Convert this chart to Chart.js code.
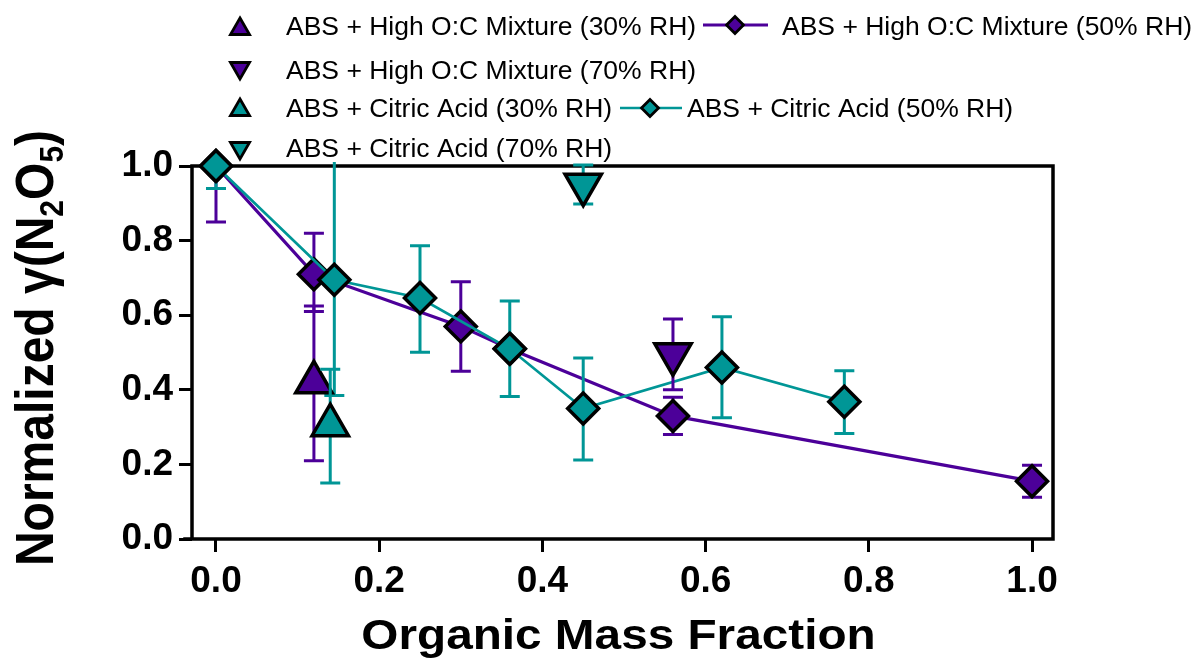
<!DOCTYPE html>
<html><head><meta charset="utf-8">
<script src="https://cdn.jsdelivr.net/npm/chart.js@4.4.0/dist/chart.umd.min.js"></script>
<style>html,body{margin:0;padding:0;background:#fff}</style>
</head><body>
<canvas id="c" width="1199" height="660"></canvas>
<script>
// ---- data ----
const xTicks = [0, 0.2, 0.4, 0.6, 0.8, 1.0];
const yTicks = [0, 0.2, 0.4, 0.6, 0.8, 1.0];

const labelHighOC30 = 'ABS + High O:C Mixture (30% RH)';
const xHighOC30 = [0.12];
const yHighOC30 = [0.42];
const upHighOC30 = [0.205];
const dnHighOC30 = [0.21];

const labelHighOC50 = 'ABS + High O:C Mixture (50% RH)';
const xHighOC50 = [0, 0.12, 0.30, 0.36, 0.56, 1.0];
const yHighOC50 = [1.0, 0.71, 0.57, 0.51, 0.33, 0.155];
const upHighOC50 = [0, 0.11, 0.12, 0, 0.05, 0.043];
const dnHighOC50 = [0.15, 0.10, 0.12, 0, 0.05, 0.043];

const labelHighOC70 = 'ABS + High O:C Mixture (70% RH)';
const xHighOC70 = [0.56];
const yHighOC70 = [0.495];
const upHighOC70 = [0.095];
const dnHighOC70 = [0.095];

const labelCitric30 = 'ABS + Citric Acid (30% RH)';
const xCitric30 = [0.14];
const yCitric30 = [0.305];
const upCitric30 = [0.15];
const dnCitric30 = [0.155];

const labelCitric50 = 'ABS + Citric Acid (50% RH)';
const xCitric50 = [0, 0.145, 0.25, 0.36, 0.45, 0.62, 0.77];
const yCitric50 = [1.0, 0.695, 0.646, 0.51, 0.35, 0.46, 0.368];
const upCitric50 = [0, 0.32, 0.14, 0.128, 0.135, 0.136, 0.083];
const dnCitric50 = [0.06, 0.31, 0.145, 0.128, 0.138, 0.135, 0.085];

const labelCitric70 = 'ABS + Citric Acid (70% RH)';
const xCitric70 = [0.45];
const yCitric70 = [0.95];
const upCitric70 = [0.053];
const dnCitric70 = [0.052];

// ---- style ----
const PURPLE = '#4c0099';
const TEAL = '#009696';
const FONT = "'Liberation Sans', Arial, Helvetica, sans-serif";
const XMIN = -0.0294, XMAX = 1.0257;

function pts(xs, ys) { return xs.map((x, i) => ({x: x, y: ys[i]})); }

function markerSet(label, xs, ys, up, dn, color, style, rot, radius, order, line) {
  return {
    label: label, data: pts(xs, ys), errUp: up, errDn: dn,
    showLine: !!line, borderColor: color, backgroundColor: color,
    borderWidth: line ? (color === PURPLE ? 3.2 : 2.7) : 0,
    pointStyle: style, rotation: rot, pointRadius: radius,
    pointBackgroundColor: color, pointBorderColor: '#000', pointBorderWidth: 3.5,
    order: order, clip: false, tension: 0
  };
}

const errorBars = {
  id: 'errorBars',
  beforeDatasetDraw(chart, args) {
    const ds = chart.data.datasets[args.index];
    if (!ds.errUp) return;
    const ctx = chart.ctx, xs = chart.scales.x, ys = chart.scales.y;
    const topLimit = ys.getPixelForValue(1.0) - 4;
    ctx.save();
    ctx.strokeStyle = ds.borderColor;
    ctx.lineWidth = 3;
    ds.data.forEach((p, i) => {
      const u = ds.errUp[i] || 0, d = ds.errDn[i] || 0;
      const px = xs.getPixelForValue(p.x);
      let pu = ys.getPixelForValue(p.y + u);
      const pd = ys.getPixelForValue(p.y - d);
      const py = ys.getPixelForValue(p.y);
      let capUp = true;
      if (pu < topLimit) { pu = topLimit; capUp = false; }
      ctx.beginPath();
      if (u > 0) {
        ctx.moveTo(px, py); ctx.lineTo(px, pu);
        if (capUp) { ctx.moveTo(px - 10, pu); ctx.lineTo(px + 10, pu); }
      }
      if (d > 0) {
        ctx.moveTo(px, py); ctx.lineTo(px, pd);
        ctx.moveTo(px - 10, pd); ctx.lineTo(px + 10, pd);
      }
      ctx.stroke();
    });
    ctx.restore();
  }
};

const frame = {
  id: 'frame',
  beforeDatasetsDraw(chart) {
    const ctx = chart.ctx, a = chart.chartArea;
    const bx = chart.scales.x.getPixelForValue(-0.038);
    ctx.save();
    ctx.strokeStyle = '#000';
    ctx.lineWidth = 3.5;
    ctx.lineCap = 'square';
    ctx.beginPath();
    ctx.moveTo(a.left, a.bottom); ctx.lineTo(a.left, a.top);
    ctx.lineTo(a.right, a.top); ctx.lineTo(a.right, a.bottom);
    ctx.moveTo(bx, a.bottom); ctx.lineTo(a.right, a.bottom);
    ctx.stroke();
    ctx.restore();
  }
};

function drawMarker(ctx, style, rot, r, x, y, color) {
  ctx.save();
  ctx.fillStyle = color; ctx.strokeStyle = '#000'; ctx.lineWidth = 2.8;
  Chart.helpers.drawPoint(ctx, {pointStyle: style, rotation: rot, radius: r, borderWidth: 2.8}, x, y);
  ctx.restore();
}

const texts = {
  id: 'texts',
  afterDraw(chart) {
    const ctx = chart.ctx;
    ctx.save();
    ctx.fillStyle = '#000';
    // legend
    ctx.font = '26.5px ' + FONT;
    ctx.textAlign = 'left';
    ctx.textBaseline = 'alphabetic';
    const tx = 286;
    drawMarker(ctx, 'triangle', 0, 11, 240, 29, PURPLE);
    ctx.fillStyle = '#000'; ctx.fillText(labelHighOC30, tx, 35);
    drawMarker(ctx, 'triangle', 180, 11, 240, 68, PURPLE);
    ctx.fillStyle = '#000'; ctx.fillText(labelHighOC70, tx, 79);
    drawMarker(ctx, 'triangle', 0, 11, 240, 110, TEAL);
    ctx.fillStyle = '#000'; ctx.fillText(labelCitric30, tx, 117);
    drawMarker(ctx, 'triangle', 180, 11, 240, 148, TEAL);
    ctx.fillStyle = '#000'; ctx.fillText(labelCitric70, tx, 157);
    // line legends
    ctx.lineWidth = 3.2;
    ctx.strokeStyle = PURPLE;
    ctx.beginPath(); ctx.moveTo(703, 25); ctx.lineTo(768, 25); ctx.stroke();
    drawMarker(ctx, 'rectRot', 0, 8.5, 735, 25, PURPLE);
    ctx.fillStyle = '#000'; ctx.fillText(labelHighOC50, 782, 35);
    ctx.lineWidth = 2.7;
    ctx.strokeStyle = TEAL;
    ctx.beginPath(); ctx.moveTo(620, 108); ctx.lineTo(682, 108); ctx.stroke();
    drawMarker(ctx, 'rectRot', 0, 8.5, 650, 108, TEAL);
    ctx.fillStyle = '#000'; ctx.fillText(labelCitric50, 687, 117);

    // x title
    ctx.save();
    ctx.translate(618.5, 649);
    ctx.scale(1.136, 1);
    ctx.font = 'bold 42px ' + FONT;
    ctx.textAlign = 'center';
    ctx.fillText('Organic Mass Fraction', 0, 0);
    ctx.restore();

    // y title with subscripts
    ctx.save();
    ctx.translate(53, 348);
    ctx.scale(1.12, 1);
    ctx.rotate(-Math.PI / 2);
    const big = 'bold 48px ' + FONT, small = 'bold 30px ' + FONT;
    const parts = [['Normalized \u03B3(N', big, 0], ['2', small, 9], ['O', big, 0], ['5', small, 9], [')', big, 0]];
    let total = 0;
    parts.forEach(p => { ctx.font = p[1]; total += ctx.measureText(p[0]).width; });
    let cx = -total / 2;
    ctx.textAlign = 'left';
    parts.forEach(p => { ctx.font = p[1]; ctx.fillText(p[0], cx, p[2]); cx += ctx.measureText(p[0]).width; });
    ctx.restore();

    ctx.restore();
  }
};

const tickFont = {family: FONT, size: 37, weight: 'bold'};

new Chart(document.getElementById('c'), {
  type: 'scatter',
  data: {
    datasets: [
      markerSet(labelHighOC50, xHighOC50, yHighOC50, upHighOC50, dnHighOC50, PURPLE, 'rectRot', 0, 15.5, 5, true),
      markerSet(labelCitric50, xCitric50, yCitric50, upCitric50, dnCitric50, TEAL, 'rectRot', 0, 15.5, 4, true),
      markerSet(labelHighOC30, xHighOC30, yHighOC30, upHighOC30, dnHighOC30, PURPLE, 'triangle', 0, 21, 3, false),
      markerSet(labelCitric30, xCitric30, yCitric30, upCitric30, dnCitric30, TEAL, 'triangle', 0, 21, 2, false),
      markerSet(labelHighOC70, xHighOC70, yHighOC70, upHighOC70, dnHighOC70, PURPLE, 'triangle', 180, 21, 1, false),
      markerSet(labelCitric70, xCitric70, yCitric70, upCitric70, dnCitric70, TEAL, 'triangle', 180, 21, 0, false)
    ]
  },
  options: {
    responsive: false,
    animation: false,
    events: [],
    layout: {padding: {left: 0, top: 166, right: 146, bottom: 0}},
    plugins: {legend: {display: false}, tooltip: {enabled: false}},
    scales: {
      x: {
        type: 'linear', position: 'bottom', min: XMIN, max: XMAX,
        afterBuildTicks: s => { s.ticks = xTicks.map(v => ({value: v})); },
        afterFit: s => { s.height = 121; },
        ticks: {callback: v => Number(v).toFixed(1), font: tickFont, color: '#000', padding: 8, maxRotation: 0, autoSkip: false},
        grid: {drawOnChartArea: false, drawTicks: true, tickLength: 13, tickWidth: 3, tickColor: '#000', color: '#000'},
        border: {display: false}
      },
      y: {
        type: 'linear', position: 'left', min: 0, max: 1,
        afterBuildTicks: s => { s.ticks = yTicks.map(v => ({value: v})); },
        afterFit: s => { s.width = 192; },
        ticks: {callback: v => Number(v).toFixed(1), font: tickFont, color: '#000', padding: 6, autoSkip: false},
        grid: {drawOnChartArea: false, drawTicks: true, tickLength: 13, tickWidth: 3, tickColor: '#000', color: '#000'},
        border: {display: false}
      }
    }
  },
  plugins: [errorBars, frame, texts]
});
</script></body></html>
